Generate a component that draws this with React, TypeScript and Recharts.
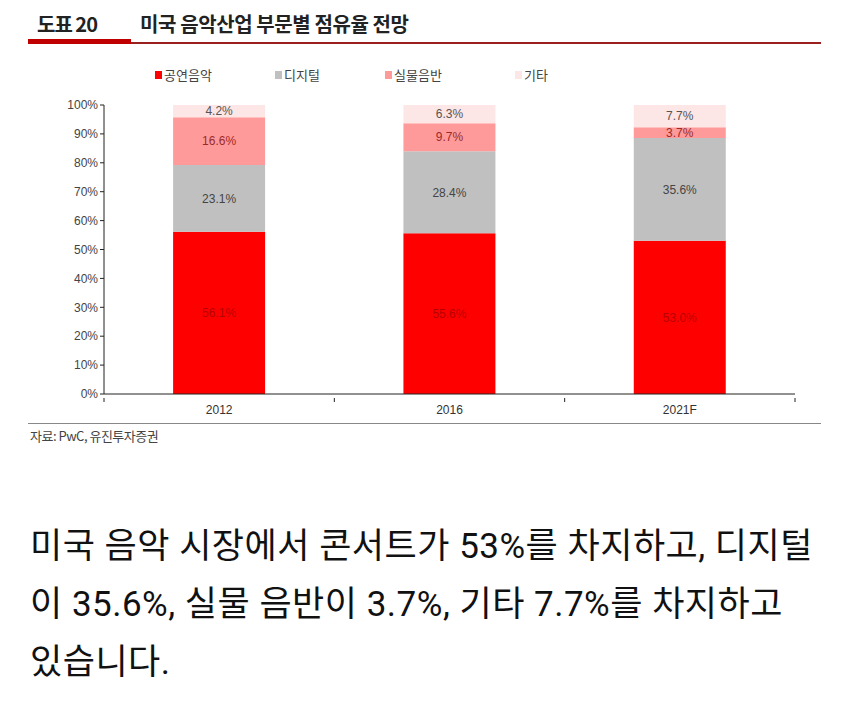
import React from 'react'
import { BarChart, Bar, XAxis, YAxis, LabelList } from 'recharts'

const years = ['2012', '2016', '2021F']
const live = [56.1, 55.6, 53.0]
const digital = [23.1, 28.4, 35.6]
const physical = [16.6, 9.7, 3.7]
const other = [4.2, 6.3, 7.7]
const yTicks = [0, 10, 20, 30, 40, 50, 60, 70, 80, 90, 100]

const series = [
  { key: 'live', name: '공연음악', color: '#ff0000', label: '#b80000' },
  { key: 'digital', name: '디지털', color: '#c0c0c0', label: '#444444' },
  { key: 'physical', name: '실물음반', color: '#ff9a9a', label: '#9a2a2a' },
  { key: 'other', name: '기타', color: '#fde6e6', label: '#555555' },
]

const data = years.map((y, i) => ({
  year: y,
  live: live[i],
  digital: digital[i],
  physical: physical[i],
  other: other[i],
}))

const chartFont = '"Liberation Sans", Arial, sans-serif'
const krFont = '"Noto Sans CJK KR", "Noto Sans", sans-serif'

const W = 850
const H = 430
const M = { top: 105, right: 55, bottom: 16, left: 44 }
const Y_W = 60
const bandW = (W - M.left - M.right - Y_W) / years.length

// label at band centre, tick marks at band edges like the source chart
function YearTick(props: any) {
  const { x, y, payload, index } = props
  const left = x - bandW / 2
  const right = x + bandW / 2
  return (
    <g>
      {index === 0 && <line x1={left} x2={left} y1={y - 4} y2={y} stroke="#222" />}
      <line x1={right} x2={right} y1={y - 4} y2={y} stroke="#222" />
      <text x={x} y={y + 12} textAnchor="middle" fontSize={12} fill="#333" fontFamily={chartFont}>
        {payload.value}
      </text>
    </g>
  )
}

function LegendBox() {
  const lefts = [0, 120, 230, 360]
  return (
    <div style={{ position: 'absolute', left: 155, top: 65, height: 16, fontFamily: krFont, fontSize: 13, color: '#444' }}>
      {series.map((s, i) => (
        <div key={s.key} style={{ position: 'absolute', left: lefts[i], top: 0, display: 'flex', alignItems: 'center', whiteSpace: 'nowrap' }}>
          <span style={{ width: 7, height: 8, background: s.color, display: 'inline-block', marginRight: 2 }} />
          <span>{s.name}</span>
        </div>
      ))}
    </div>
  )
}

export default function App() {
  return (
    <div style={{ position: 'relative', width: 850, height: 716, margin: -8, background: '#fff', overflow: 'hidden' }}>
      {/* header */}
      <div style={{ position: 'absolute', left: 37, top: 9, fontFamily: krFont, fontWeight: 700, fontSize: 20, color: '#222', letterSpacing: -1 }}>
        도표 20
      </div>
      <div style={{ position: 'absolute', left: 140, top: 9, fontFamily: krFont, fontWeight: 700, fontSize: 20, color: '#222', letterSpacing: -0.4 }}>
        미국 음악산업 부문별 점유율 전망
      </div>
      <div style={{ position: 'absolute', left: 28, top: 39, width: 103, height: 5, background: '#c00000' }} />
      <div style={{ position: 'absolute', left: 131, top: 42, width: 690, height: 1.5, background: '#9a2020' }} />

      <LegendBox />

      <div style={{ position: 'absolute', left: 0, top: 0 }}>
        <BarChart width={W} height={H} data={data} margin={M} barCategoryGap="30%">
          <XAxis
            dataKey="year"
            tick={<YearTick />}
            axisLine={{ stroke: '#222' }}
            tickLine={false}
            height={20}
            interval={0}
          />
          <YAxis
            domain={[0, 100]}
            ticks={yTicks}
            tickFormatter={v => `${v}%`}
            tick={{ fontSize: 12, fill: '#444', fontFamily: chartFont }}
            axisLine={{ stroke: '#222' }}
            tickLine={{ stroke: '#222' }}
            tickSize={4}
            width={Y_W}
            interval={0}
          />
          {series.map(s => (
            <Bar key={s.key} dataKey={s.key} name={s.name} stackId="a" fill={s.color} isAnimationActive={false}>
              <LabelList
                dataKey={s.key}
                position="center"
                formatter={(v: number) => `${v.toFixed(1)}%`}
                style={{ fontSize: 12, fill: s.label, fontFamily: chartFont }}
              />
            </Bar>
          ))}
        </BarChart>
      </div>

      {/* footer */}
      <div style={{ position: 'absolute', left: 28, top: 423, width: 793, height: 1, background: '#888' }} />
      <div style={{ position: 'absolute', left: 30, top: 426, fontFamily: krFont, fontSize: 13, color: '#444', letterSpacing: -0.5 }}>
        자료: PwC, 유진투자증권
      </div>

      <div style={{ position: 'absolute', left: 30, top: 518, whiteSpace: 'nowrap', fontFamily: `Roboto, ${krFont}`, fontSize: 35, lineHeight: '58px', color: '#111', letterSpacing: 0.5 }}>
        미국 음악 시장에서 콘서트가 53%를 차지하고, 디지털
        <br />
        이 35.6%, 실물 음반이 3.7%, 기타 7.7%를 차지하고
        <br />
        있습니다.
      </div>
    </div>
  )
}
